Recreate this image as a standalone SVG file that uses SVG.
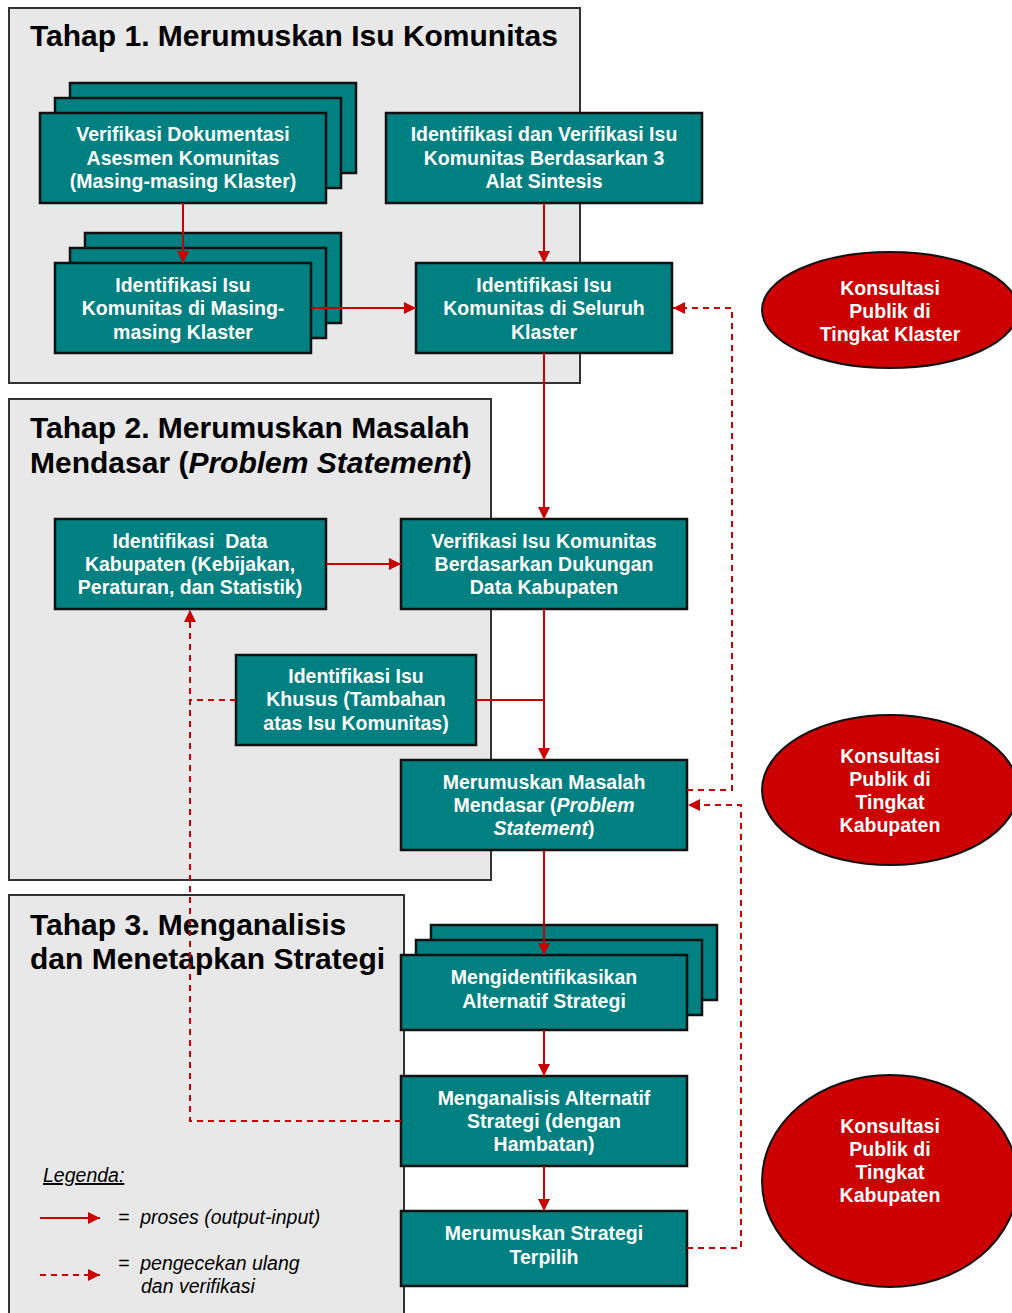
<svg xmlns="http://www.w3.org/2000/svg" width="1012" height="1313" viewBox="0 0 1012 1313">
<defs>
<style>
.panel{fill:#e8e8e8;stroke:#333;stroke-width:2}
.box{fill:#008080;stroke:#111;stroke-width:2.5}
.ell{fill:#cc0000;stroke:#111;stroke-width:2}
.t{font-family:"Liberation Sans",Arial,sans-serif;font-weight:bold;font-size:19.5px;fill:#fff;text-anchor:middle}
.e{font-family:"Liberation Sans",Arial,sans-serif;font-weight:bold;font-size:19.5px;fill:#fff;text-anchor:middle}
.title{font-family:"Liberation Sans",Arial,sans-serif;font-weight:bold;font-size:30px;fill:#000}
.leg{font-family:"Liberation Sans",Arial,sans-serif;font-style:italic;font-size:19.5px;fill:#000;white-space:pre}
.solid{stroke:#cc0000;stroke-width:2;fill:none}
.dash{stroke:#cc0000;stroke-width:2;fill:none;stroke-dasharray:6,5}
</style>
<marker id="ah" viewBox="0 0 10 10" refX="10" refY="5" markerWidth="6" markerHeight="6" markerUnits="strokeWidth" orient="auto">
<path d="M0,0 L10,5 L0,10 z" fill="#cc0000"/>
</marker>
</defs>
<rect width="1012" height="1313" fill="#fff"/>

<g id="panel1">
<rect class="panel" x="9" y="8" width="571" height="375"/>
<text class="title" x="30" y="46">Tahap 1. Merumuskan Isu Komunitas</text>
</g>
<g id="panel2">
<rect class="panel" x="9" y="399" width="482" height="481"/>
<text class="title" x="30" y="438">Tahap 2. Merumuskan Masalah</text>
<text class="title" x="30" y="473">Mendasar (<tspan font-style="italic">Problem Statement</tspan>)</text>
</g>
<g id="panel3">
<rect class="panel" x="9" y="895" width="395" height="430"/>
<text class="title" x="30" y="935">Tahap 3. Menganalisis</text>
<text class="title" x="30" y="969">dan Menetapkan Strategi</text>
</g>

<g id="n1">
<rect class="box" x="70" y="83" width="286" height="90"/>
<rect class="box" x="55" y="98" width="286" height="90"/>
<rect class="box" x="40" y="113" width="286" height="90"/>
<text class="t" x="183" y="141">Verifikasi Dokumentasi</text>
<text class="t" x="183" y="165">Asesmen Komunitas</text>
<text class="t" x="183" y="188">(Masing-masing Klaster)</text>
</g>
<g id="n2">
<rect class="box" x="386" y="113" width="316" height="90"/>
<text class="t" x="544" y="141">Identifikasi dan Verifikasi Isu</text>
<text class="t" x="544" y="165">Komunitas Berdasarkan 3</text>
<text class="t" x="544" y="188">Alat Sintesis</text>
</g>
<g id="n3">
<rect class="box" x="85" y="233" width="256" height="90"/>
<rect class="box" x="70" y="248" width="256" height="90"/>
<rect class="box" x="55" y="263" width="256" height="90"/>
<text class="t" x="183" y="292">Identifikasi Isu</text>
<text class="t" x="183" y="315">Komunitas di Masing-</text>
<text class="t" x="183" y="339">masing Klaster</text>
</g>
<g id="n4">
<rect class="box" x="416" y="263" width="256" height="90"/>
<text class="t" x="544" y="292">Identifikasi Isu</text>
<text class="t" x="544" y="315">Komunitas di Seluruh</text>
<text class="t" x="544" y="339">Klaster</text>
</g>
<g id="e1">
<ellipse class="ell" cx="890" cy="310" rx="128" ry="58"/>
<text class="e" x="890" y="295">Konsultasi</text>
<text class="e" x="890" y="318">Publik di</text>
<text class="e" x="890" y="341">Tingkat Klaster</text>
</g>

<g id="n5">
<rect class="box" x="55" y="519" width="271" height="90"/>
<text class="t" x="190" y="548" xml:space="preserve">Identifikasi  Data</text>
<text class="t" x="190" y="571">Kabupaten (Kebijakan,</text>
<text class="t" x="190" y="594">Peraturan, dan Statistik)</text>
</g>
<g id="n6">
<rect class="box" x="401" y="519" width="286" height="90"/>
<text class="t" x="544" y="548">Verifikasi Isu Komunitas</text>
<text class="t" x="544" y="571">Berdasarkan Dukungan</text>
<text class="t" x="544" y="594">Data Kabupaten</text>
</g>
<g id="n7">
<rect class="box" x="236" y="655" width="240" height="90"/>
<text class="t" x="356" y="683">Identifikasi Isu</text>
<text class="t" x="356" y="706">Khusus (Tambahan</text>
<text class="t" x="356" y="730">atas Isu Komunitas)</text>
</g>
<g id="n8">
<rect class="box" x="401" y="760" width="286" height="90"/>
<text class="t" x="544" y="789">Merumuskan Masalah</text>
<text class="t" x="544" y="812">Mendasar (<tspan font-style="italic">Problem</tspan></text>
<text class="t" x="544" y="835"><tspan font-style="italic">Statement</tspan>)</text>
</g>
<g id="e2">
<ellipse class="ell" cx="890" cy="790" rx="128" ry="75"/>
<text class="e" x="890" y="763">Konsultasi</text>
<text class="e" x="890" y="786">Publik di</text>
<text class="e" x="890" y="809">Tingkat</text>
<text class="e" x="890" y="832">Kabupaten</text>
</g>

<g id="n9">
<rect class="box" x="431" y="925" width="286" height="75"/>
<rect class="box" x="416" y="940" width="286" height="75"/>
<rect class="box" x="401" y="955" width="286" height="75"/>
<text class="t" x="544" y="984">Mengidentifikasikan</text>
<text class="t" x="544" y="1008">Alternatif Strategi</text>
</g>
<g id="n10">
<rect class="box" x="401" y="1076" width="286" height="90"/>
<text class="t" x="544" y="1105">Menganalisis Alternatif</text>
<text class="t" x="544" y="1128">Strategi (dengan</text>
<text class="t" x="544" y="1151">Hambatan)</text>
</g>
<g id="n11">
<rect class="box" x="401" y="1211" width="286" height="75"/>
<text class="t" x="544" y="1240">Merumuskan Strategi</text>
<text class="t" x="544" y="1264">Terpilih</text>
</g>
<g id="e3">
<ellipse class="ell" cx="890" cy="1181" rx="128" ry="106"/>
<text class="e" x="890" y="1133">Konsultasi</text>
<text class="e" x="890" y="1156">Publik di</text>
<text class="e" x="890" y="1179">Tingkat</text>
<text class="e" x="890" y="1202">Kabupaten</text>
</g>

<g id="connectors">
<path class="solid" d="M183,203 V263" marker-end="url(#ah)"/>
<path class="solid" d="M544,203 V263" marker-end="url(#ah)"/>
<path class="solid" d="M311,308 H416" marker-end="url(#ah)"/>
<path class="solid" d="M544,353 V519" marker-end="url(#ah)"/>
<path class="solid" d="M326,564 H401" marker-end="url(#ah)"/>
<path class="solid" d="M544,609 V760" marker-end="url(#ah)"/>
<path class="solid" d="M476,700 H544"/>
<path class="solid" d="M544,850 V955" marker-end="url(#ah)"/>
<path class="solid" d="M544,1030 V1076" marker-end="url(#ah)"/>
<path class="solid" d="M544,1166 V1211" marker-end="url(#ah)"/>
<path class="dash" d="M687,790 H732 V308 H673" marker-end="url(#ah)"/>
<path class="dash" d="M687,1248 H741 V805 H688" marker-end="url(#ah)"/>
<path class="dash" d="M401,1121 H190 V610" marker-end="url(#ah)"/>
<path class="dash" d="M236,700 H190"/>
</g>

<g id="legend">
<text class="leg" x="43" y="1182" text-decoration="underline">Legenda:</text>
<path class="solid" d="M40,1218 H100" marker-end="url(#ah)"/>
<text class="leg" x="118" y="1224" xml:space="preserve">=  proses (output-input)</text>
<path class="dash" d="M40,1275 H100" marker-end="url(#ah)"/>
<text class="leg" x="118" y="1270" xml:space="preserve">=  pengecekan ulang</text>
<text class="leg" x="141" y="1293">dan verifikasi</text>
</g>
</svg>
